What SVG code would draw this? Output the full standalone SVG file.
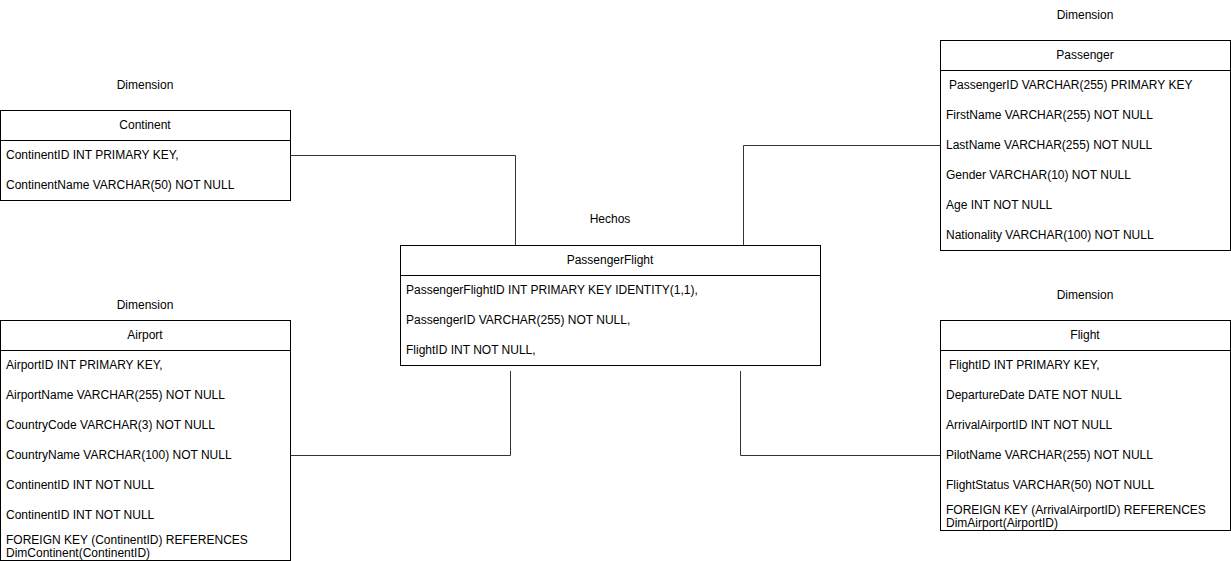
<svg xmlns="http://www.w3.org/2000/svg" width="1231" height="561" viewBox="0 0 1231 561">
<style>
text{font-family:"Liberation Sans",Arial,sans-serif;font-size:12px;fill:#000}
.c{text-anchor:middle}
.box{fill:#fff;stroke:#000;stroke-width:1}
.sep{stroke:#000;stroke-width:1}
.conn{fill:none;stroke:#333;stroke-width:1}
</style>
<rect width="1231" height="561" fill="#fff"/>
<g id="labels">
<text class="c" x="145" y="89">Dimension</text>
<text class="c" x="1085" y="19">Dimension</text>
<text class="c" x="610" y="223">Hechos</text>
<text class="c" x="145" y="309">Dimension</text>
<text class="c" x="1085" y="299">Dimension</text>
</g>
<g id="connectors">
<path class="conn" d="M290.5 155.5H515.5V245"/>
<path class="conn" d="M940 145.5H743.5V249"/>
<path class="conn" d="M290.5 455.5H510.5V371"/>
<path class="conn" d="M940 455.5H740.5V371"/>
</g>
<g id="continent">
<rect class="box" x="0.5" y="110.5" width="290" height="90"/>
<line class="sep" x1="0.5" y1="140.5" x2="290.5" y2="140.5"/>
<text class="c" x="145" y="129">Continent</text>
<text x="6" y="159">ContinentID INT PRIMARY KEY,</text>
<text x="6" y="189">ContinentName VARCHAR(50) NOT NULL</text>
</g>
<g id="airport">
<rect class="box" x="0.5" y="320.5" width="290" height="240"/>
<line class="sep" x1="0.5" y1="350.5" x2="290.5" y2="350.5"/>
<text class="c" x="145" y="339">Airport</text>
<text x="6" y="369">AirportID INT PRIMARY KEY,</text>
<text x="6" y="399">AirportName VARCHAR(255) NOT NULL</text>
<text x="6" y="429">CountryCode VARCHAR(3) NOT NULL</text>
<text x="6" y="459">CountryName VARCHAR(100) NOT NULL</text>
<text x="6" y="489">ContinentID INT NOT NULL</text>
<text x="6" y="519">ContinentID INT NOT NULL</text>
<text x="6" y="544">FOREIGN KEY (ContinentID) REFERENCES</text>
<text x="6" y="557">DimContinent(ContinentID)</text>
</g>
<g id="passengerflight">
<rect class="box" x="400.5" y="245.5" width="420" height="120"/>
<line class="sep" x1="400.5" y1="275.5" x2="820.5" y2="275.5"/>
<text class="c" x="610" y="264">PassengerFlight</text>
<text x="406" y="294">PassengerFlightID INT PRIMARY KEY IDENTITY(1,1),</text>
<text x="406" y="324">PassengerID VARCHAR(255) NOT NULL,</text>
<text x="406" y="354">FlightID INT NOT NULL,</text>
</g>
<g id="passenger">
<rect class="box" x="940.5" y="40.5" width="290" height="210"/>
<line class="sep" x1="940.5" y1="70.5" x2="1230.5" y2="70.5"/>
<text class="c" x="1085" y="59">Passenger</text>
<text x="949" y="89">PassengerID VARCHAR(255) PRIMARY KEY</text>
<text x="946" y="119">FirstName VARCHAR(255) NOT NULL</text>
<text x="946" y="149">LastName VARCHAR(255) NOT NULL</text>
<text x="946" y="179">Gender VARCHAR(10) NOT NULL</text>
<text x="946" y="209">Age INT NOT NULL</text>
<text x="946" y="239">Nationality VARCHAR(100) NOT NULL</text>
</g>
<g id="flight">
<rect class="box" x="940.5" y="320.5" width="290" height="210"/>
<line class="sep" x1="940.5" y1="350.5" x2="1230.5" y2="350.5"/>
<text class="c" x="1085" y="339">Flight</text>
<text x="949" y="369">FlightID INT PRIMARY KEY,</text>
<text x="946" y="399">DepartureDate DATE NOT NULL</text>
<text x="946" y="429">ArrivalAirportID INT NOT NULL</text>
<text x="946" y="459">PilotName VARCHAR(255) NOT NULL</text>
<text x="946" y="489">FlightStatus VARCHAR(50) NOT NULL</text>
<text x="946" y="514">FOREIGN KEY (ArrivalAirportID) REFERENCES</text>
<text x="946" y="527">DimAirport(AirportID)</text>
</g>
</svg>
